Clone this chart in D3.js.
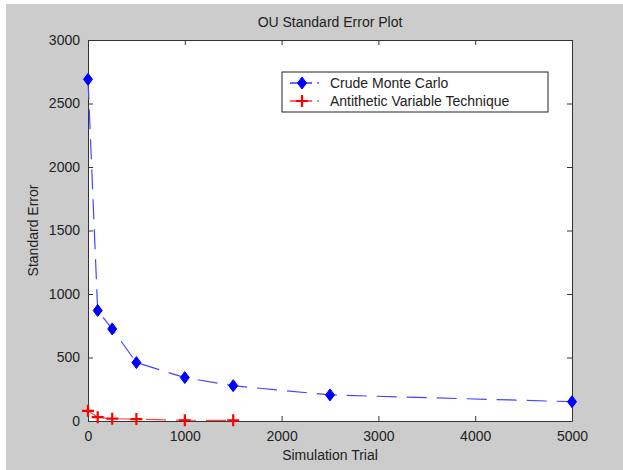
<!DOCTYPE html>
<html lang="en">
<head>
<meta charset="UTF-8">
<script src="https://d3js.org/d3.v7.min.js"></script>
<title>OU Standard Error Plot</title>
<style>
    body { margin: 0; background: #fff; font-family: "Liberation Sans", Arial, sans-serif; }
    svg { display: block; }
    text { fill: #222; }
</style>
</head>
<body>
<script>
    // ---- data ----
    const crudeTrials = [0, 100, 250, 500, 1000, 1500, 2500, 5000];
    const crudeErr    = [2690, 870, 725, 460, 342, 278, 205, 152];
    const antiTrials  = [0, 100, 250, 500, 1000, 1500];
    const antiErr     = [80, 30, 18, 15, 6, 5];
    const xTicks = [0, 1000, 2000, 3000, 4000, 5000];
    const yTicks = [0, 500, 1000, 1500, 2000, 2500, 3000];

    const W = 623, H = 470;
    const plot = { left: 88, top: 40, right: 572, bottom: 421 };
    const fs = 14;

    const svg = d3.select("body").append("svg")
        .attr("width", W).attr("height", H);

    // gray figure background
    svg.append("rect").attr("x", 6).attr("y", 4)
        .attr("width", W - 6).attr("height", H - 4).attr("fill", "#cccccc");

    const x = d3.scaleLinear().domain([0, 5000]).range([plot.left, plot.right]);
    const y = d3.scaleLinear().domain([0, 3000]).range([plot.bottom, plot.top]);

    svg.append("rect")
        .attr("x", plot.left).attr("y", plot.top)
        .attr("width", plot.right - plot.left).attr("height", plot.bottom - plot.top)
        .attr("fill", "#fff");

    // axes with inward ticks, mirrored on top/right
    const tk = 5;
    const fmt = d3.format("d");
    const axStyle = g => {
        g.selectAll("path").attr("stroke", "#333");
        g.selectAll("line").attr("stroke", "#333");
        g.selectAll("text").attr("font-size", fs).attr("fill", "#222")
            .attr("font-family", "Liberation Sans, Arial, sans-serif");
    };
    svg.append("g").attr("transform", `translate(0,${plot.bottom})`)
        .call(d3.axisBottom(x).tickValues(xTicks).tickFormat(fmt).tickSizeInner(-tk).tickSizeOuter(0).tickPadding(10))
        .call(axStyle);
    svg.append("g").attr("transform", `translate(${plot.left},0)`)
        .call(d3.axisLeft(y).tickValues(yTicks).tickFormat(fmt).tickSizeInner(-tk).tickSizeOuter(0).tickPadding(8))
        .call(axStyle);
    svg.append("g").attr("transform", `translate(0,${plot.top})`)
        .call(d3.axisTop(x).tickValues(xTicks).tickSizeInner(-tk).tickSizeOuter(0).tickFormat(""))
        .call(axStyle);
    svg.append("g").attr("transform", `translate(${plot.right},0)`)
        .call(d3.axisRight(y).tickValues(yTicks).tickSizeInner(-tk).tickSizeOuter(0).tickFormat(""))
        .call(axStyle);

    const line = d3.line().x(d => x(d[0])).y(d => y(d[1]));
    const crude = crudeTrials.map((t, i) => [t, crudeErr[i]]);
    const anti = antiTrials.map((t, i) => [t, antiErr[i]]);

    svg.append("path").datum(crude).attr("d", line)
        .attr("fill", "none").attr("stroke", "#4444ff").attr("stroke-width", 1.2)
        .attr("stroke-dasharray", "20,10");
    svg.append("path").datum(anti).attr("d", line)
        .attr("fill", "none").attr("stroke", "#ff4444").attr("stroke-width", 1.2)
        .attr("stroke-dasharray", "20,10");

    const diamond = "M0,-6L4.5,0L0,6L-4.5,0Z";
    svg.selectAll(".cm").data(crude).enter().append("path")
        .attr("transform", d => `translate(${x(d[0])},${y(d[1])})`)
        .attr("d", diamond).attr("fill", "#0000ff").attr("stroke", "#0000ff");

    const plus = "M-6,0H6M0,-6V6";
    svg.selectAll(".av").data(anti).enter().append("path")
        .attr("transform", d => `translate(${x(d[0])},${y(d[1])})`)
        .attr("d", plus).attr("stroke", "#ff0000").attr("stroke-width", 2.2).attr("fill", "none");

    // legend
    const lg = svg.append("g").attr("transform", "translate(282,72)");
    lg.append("rect").attr("width", 266).attr("height", 40)
        .attr("fill", "#fff").attr("stroke", "#222");
    const items = [
        { label: "Crude Monte Carlo", color: "#0000ff", mark: "d" },
        { label: "Antithetic Variable Technique", color: "#ff0000", mark: "p" }
    ];
    items.forEach((it, i) => {
        const cy = 11 + i * 18;
        lg.append("line").attr("x1", 8).attr("x2", 30).attr("y1", cy).attr("y2", cy)
            .attr("stroke", it.color).attr("stroke-width", 1.2);
        lg.append("line").attr("x1", 35).attr("x2", 37).attr("y1", cy).attr("y2", cy)
            .attr("stroke", it.color).attr("stroke-width", 1.2);
        if (it.mark === "d") {
            lg.append("path").attr("transform", `translate(20,${cy})`).attr("d", diamond)
                .attr("fill", it.color).attr("stroke", it.color);
        } else {
            lg.append("path").attr("transform", `translate(20,${cy})`).attr("d", plus)
                .attr("stroke", it.color).attr("stroke-width", 2.2);
        }
        lg.append("text").attr("x", 48).attr("y", cy + 5).attr("font-size", fs)
            .text(it.label);
    });

    // titles
    svg.append("text").attr("x", (plot.left + plot.right) / 2).attr("y", 27)
        .attr("text-anchor", "middle").attr("font-size", fs).text("OU Standard Error Plot");
    svg.append("text").attr("x", (plot.left + plot.right) / 2).attr("y", 460)
        .attr("text-anchor", "middle").attr("font-size", fs).text("Simulation Trial");
    svg.append("text")
        .attr("transform", `translate(38,${(plot.top + plot.bottom) / 2}) rotate(-90)`)
        .attr("text-anchor", "middle").attr("font-size", fs).text("Standard Error");
</script>
</body>
</html>
